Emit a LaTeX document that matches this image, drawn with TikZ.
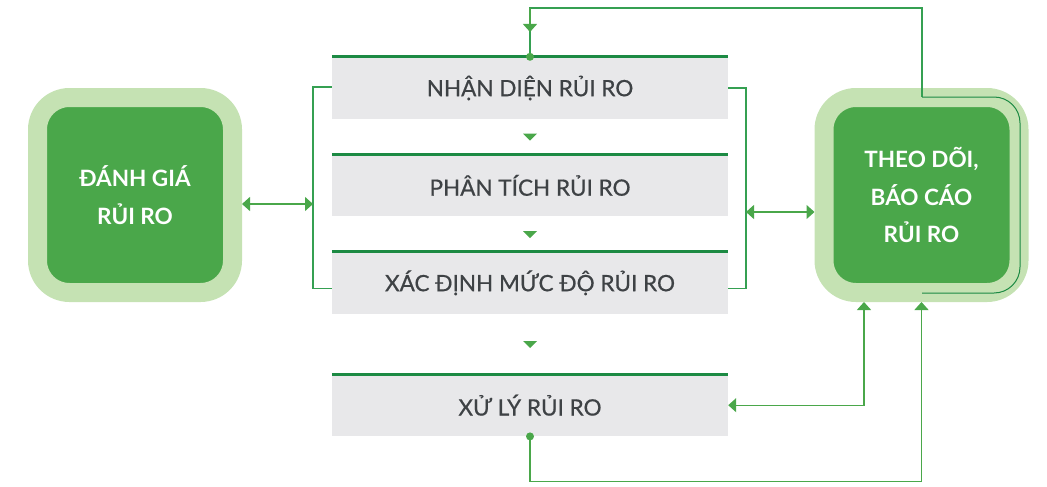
\documentclass[tikz,border=0pt]{standalone}
\usepackage{fontspec}
\setmainfont{Lato}
\newfontfamily\stepfont{Lato}[FakeBold=0.6]
\usetikzlibrary{positioning}
\usetikzlibrary{arrows.meta}
\usetikzlibrary{calc}

\definecolor{ltgreen}{HTML}{C5E2B3}
\definecolor{dkgreen}{HTML}{4AA74A}
\definecolor{linegreen}{HTML}{35A052}
\definecolor{topgreen}{HTML}{1C8A43}
\definecolor{boxgrey}{HTML}{E8E8EA}
\definecolor{textgrey}{HTML}{3E4245}

\begin{document}
\begin{tikzpicture}[x=1pt,y=-1pt,
              stepbox/.style={fill=boxgrey, minimum width=396pt, minimum height=62pt,
                inner sep=0pt, text=textgrey, font=\stepfont\fontsize{22.5}{26}\selectfont},
              greenbox/.style={fill=dkgreen, draw=ltgreen, line width=19pt,
                rounded corners=32pt, minimum width=195pt, minimum height=195pt,
                align=center, text=white, font=\bfseries\fontsize{22.5}{37.5}\selectfont},
              link/.style={draw=linegreen, line width=1.3pt},
              tip/.style={-{Triangle[width=14pt,length=8pt]}, dkgreen},
              tips/.style={{Triangle[width=14pt,length=8pt]}-{Triangle[width=14pt,length=8pt]}, dkgreen}]
  \useasboundingbox (0,0) rectangle (1047,487);
  \node[stepbox] (nhandien) at (530,88) {NHẬN DIỆN RỦI RO};
  \node[stepbox, below=35pt of nhandien] (phantich) {PHÂN TÍCH RỦI RO};
  \node[stepbox, below=35pt of phantich] (xacdinh) {XÁC ĐỊNH MỨC ĐỘ RỦI RO};
  \node[stepbox, below=60pt of xacdinh] (xuly) {XỬ LÝ RỦI RO};
  \foreach \n in {nhandien,phantich,xacdinh,xuly}
    \draw[topgreen, line width=3pt] (\n.north west) -- (\n.north east);
  % small arrows between the steps
  \foreach \a/\b in {nhandien/phantich,phantich/xacdinh,xacdinh/xuly}
    \fill[dkgreen] ($(\a.south)!0.5!(\b.north)$) ++(-7,-3) -- ++(14,0) -- ++(-7,7) -- cycle;

  \node[greenbox] (danhgia) at (135,195) {ĐÁNH GIÁ\\RỦI RO};
  \node[greenbox] (theodoi) at (921.5,195) {THEO DÕI,\\BÁO CÁO\\RỦI RO};

  % brackets
  \coordinate (lb) at (313,204);
  \coordinate (rb) at (746,212);
  \draw[link] ([yshift=1pt]nhandien.west) -| (lb) |- ([yshift=-6pt]xacdinh.west);
  \draw[link] (nhandien.east) -| (rb) |- ([yshift=-6pt]xacdinh.east);
  \draw[link, tips] (lb -| danhgia.east) -- (lb);
  \draw[link, tips] (rb) -- (rb -| theodoi.west);

  % loop back to the first step
  \coordinate (top) at (530,8);
  \draw[link] (nhandien.north) -- (top) -| (922,97);
  \draw[link, tip] (top) -- ++(0,24);
  \draw[topgreen, line width=1pt, rounded corners=26pt] (922,97) -- (1020,97) -- (1020,293) -- (922,293);
  \fill[dkgreen] (nhandien.north) circle (4pt);

  % treatment and reporting
  \draw[link, tips] (xuly.east) -| ($(theodoi.south)+(-57.5,0)$);
  \draw[link, tip] (xuly.south) -- ++(0,45) -| (theodoi.south);
  \fill[dkgreen] (xuly.south) circle (4pt);
\end{tikzpicture}
\end{document}
